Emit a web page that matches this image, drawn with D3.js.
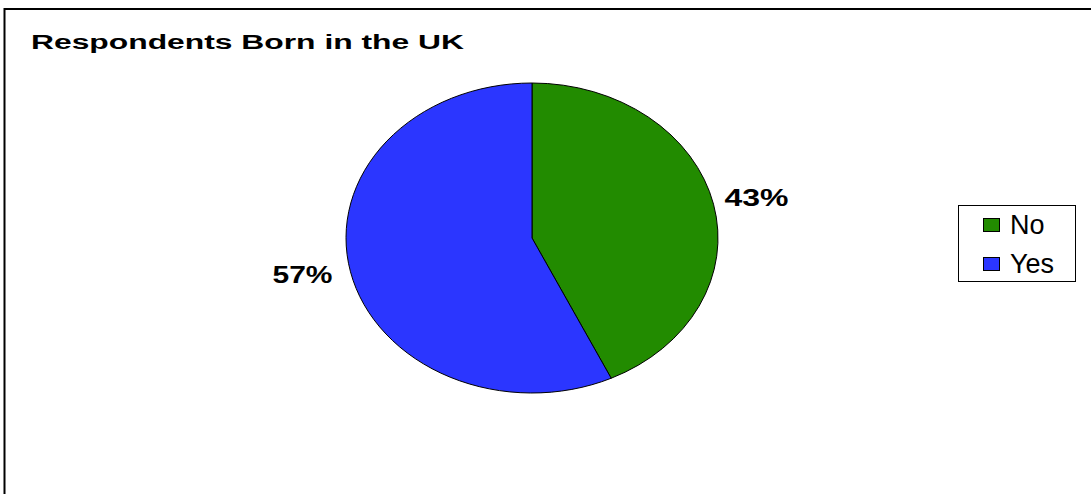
<!DOCTYPE html>
<html>
<head>
<meta charset="utf-8">
<script src="https://cdn.jsdelivr.net/npm/d3@7"></script>
<style>
  html, body { margin: 0; padding: 0; background: #fff; }
  svg { display: block; font-family: "Liberation Sans", Arial, sans-serif; }
</style>
</head>
<body>
<svg id="chart" width="1091" height="494"></svg>
<script>
// Data
const categories = ["No", "Yes"];
const values = [43, 57];
const valueLabels = ["43%", "57%"];
const colors = ["#228B00", "#2B36FF"];
const title = "Respondents Born in the UK";

const svg = d3.select("#chart");

// Chart frame
svg.append("rect")
  .attr("x", 4.5).attr("y", 9)
  .attr("width", 1200).attr("height", 600)
  .attr("fill", "#fff")
  .attr("stroke", "#000").attr("stroke-width", 2);

// Title
svg.append("text")
  .attr("x", 31).attr("y", 49)
  .attr("font-size", 20).attr("font-weight", "bold")
  .attr("textLength", 433).attr("lengthAdjust", "spacingAndGlyphs")
  .text(title);

// Pie (elliptical)
const cx = 532, cy = 238, rx = 186, ry = 155;
const pie = d3.pie().sort(null).value(d => d)(values);
const arc = d3.arc().innerRadius(0).outerRadius(ry);

const g = svg.append("g")
  .attr("transform", `translate(${cx},${cy}) scale(${rx / ry},1)`);

g.selectAll("path")
  .data(pie)
  .join("path")
  .attr("d", arc)
  .attr("fill", (d, i) => colors[i])
  .attr("stroke", "#000")
  .attr("stroke-width", 1)
  .attr("vector-effect", "non-scaling-stroke");

// Percentage labels just outside the slice edge
const lw = [64, 60];
svg.selectAll("text.pct")
  .data(pie)
  .join("text")
  .attr("class", "pct")
  .each(function (d, i) {
    const a = (d.startAngle + d.endAngle) / 2;
    const ex = cx + rx * Math.sin(a);
    const ey = cy - ry * Math.cos(a);
    const right = Math.sin(a) >= 0;
    d3.select(this)
      .attr("x", right ? ex + 11 : ex - 18)
      .attr("y", right ? ey + 2 : ey + 11)
      .attr("text-anchor", right ? "start" : "end")
      .attr("font-size", 24).attr("font-weight", "bold")
      .attr("textLength", lw[i]).attr("lengthAdjust", "spacingAndGlyphs")
      .text(valueLabels[i]);
  });

// Legend
const legend = svg.append("g");
legend.append("rect")
  .attr("x", 958.5).attr("y", 205.5)
  .attr("width", 117).attr("height", 76)
  .attr("fill", "#fff").attr("stroke", "#000").attr("stroke-width", 1);

const legendY = d3.scalePoint().domain(categories).range([225, 264]);
const items = legend.selectAll("g.item")
  .data(categories)
  .join("g")
  .attr("class", "item")
  .attr("transform", d => `translate(0,${legendY(d)})`);

items.append("rect")
  .attr("x", 983.5).attr("y", -6.5)
  .attr("width", 16).attr("height", 13)
  .attr("fill", (d, i) => colors[i])
  .attr("stroke", "#000").attr("stroke-width", 1);

items.append("text")
  .attr("x", 1010).attr("y", 9)
  .attr("font-size", 27)
  .text(d => d);
</script>
</body>
</html>
